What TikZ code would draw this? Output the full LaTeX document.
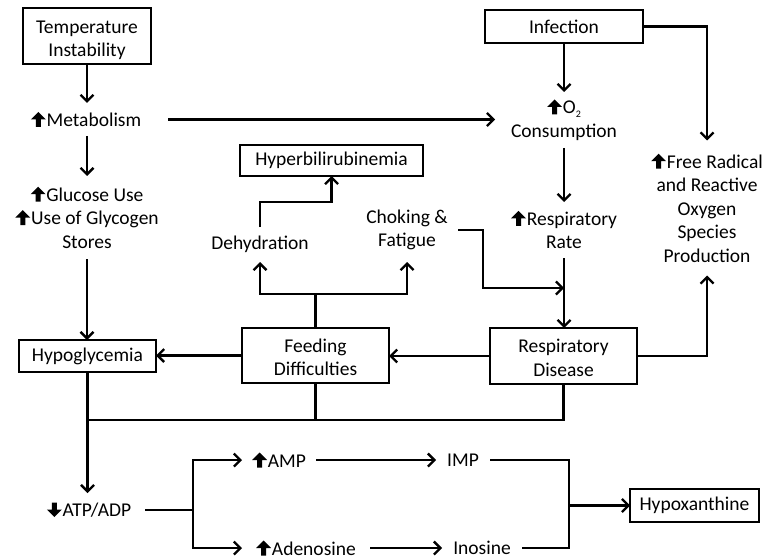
\documentclass[tikz,border=0pt]{standalone}
\usepackage{fontspec}
\setmainfont{Carlito}
\usetikzlibrary{arrows.meta,calc}
\newcommand{\upa}{\tikz[baseline=0pt,x=1pt,y=1pt]\fill (-2.5,-0.5)--(2.5,-0.5)--(2.5,7)--(7.5,7)--(0,14.5)--(-7.5,7)--(-2.5,7)--cycle;\hspace{0.8pt}}
\newcommand{\dna}{\tikz[baseline=0pt,x=1pt,y=1pt]\fill (-2.5,14)--(2.5,14)--(2.5,7)--(7.5,7)--(0,-0.5)--(-7.5,7)--(-2.5,7)--cycle;\hspace{0.8pt}}
\tikzset{
  every node/.style={font=\fontsize{19.5}{23.5}\selectfont, align=center, inner sep=0pt, outer sep=0pt},
  boxnode/.style={draw, line width=1.3pt},
  txt/.style={},
  conn/.style={line width=2.3pt},
  arr/.style={conn, -{Straight Barb[length=6.5pt,width=13pt,line width=2.3pt]}},
}
\begin{document}
\begin{tikzpicture}[x=1pt,y=-1pt]
\fill[white] (0,0) rectangle (766,559);
\useasboundingbox (0,0) rectangle (766,559);

% boxes
\node[boxnode, minimum width=128pt, minimum height=56pt] (temp) at (87,36) {\rule{0pt}{21pt}Temperature\\Instability};
\node[boxnode, minimum width=137pt, minimum height=32pt] (hypo) at (87.5,356) {Hypoglycemia};
\node[boxnode, minimum width=147pt, minimum height=55pt] (feed) at (315.5,355.5) {\rule{0pt}{17pt}Feeding\\Difficulties};
\node[boxnode, minimum width=147pt, minimum height=56pt] (resp) at (563.5,356) {\rule{0pt}{17pt}Respiratory\\Disease};
\node[boxnode, minimum width=158pt, minimum height=33pt] (inf) at (564,26.5) {Infection};
\node[boxnode, minimum width=183pt, minimum height=31pt] (hyperb) at (331.5,160.5) {Hyperbilirubinemia};
\node[boxnode, minimum width=129pt, minimum height=33pt] (hypox) at (694.5,505.5) {Hypoxanthine};

% text nodes (invisible frames whose borders are the connector ends)
\node[txt, minimum width=164pt, minimum height=33pt] (meta) at (86,119.5) {\upa Metabolism};
\node[txt, minimum height=83pt] (gluc) at (87,217.5) {\upa Glucose Use\\\upa Use of Glycogen\\Stores};
\node[txt, minimum width=138pt, minimum height=56pt] (o2) at (564,120) {\upa O\raisebox{-4pt}{\fontsize{10}{10}\selectfont 2}\\Consumption};
\node[txt, minimum height=56pt] (rr) at (564,230) {\upa Respiratory\\Rate};
\node[txt, minimum width=102pt, minimum height=64pt] (choke) at (407,230) {Choking \&\\Fatigue};
\node[txt, minimum height=35pt] (dehyd) at (260,244.5) {Dehydration};
\node[txt, minimum height=135pt] (frad) at (707,208) {\upa Free Radical\\and Reactive\\Oxygen\\Species\\Production};
\node[txt, minimum width=112pt, minimum height=34pt] (atp) at (89,510) {\dna ATP/ADP};
\node[txt, minimum width=74pt, minimum height=24pt] (amp) at (279,460) {\upa AMP};
\node[txt, minimum width=54pt, minimum height=24pt] (imp) at (463,460) {IMP};
\node[txt, minimum width=128pt, minimum height=24pt] (aden) at (306,548) {\upa Adenosine};
\node[txt, minimum width=80pt, minimum height=24pt] (ino) at (482,548) {Inosine};

\coordinate (j1) at (564,288);
\coordinate (j2) at (87.5,420);
\coordinate (br) at (193,510);
\coordinate (j3) at (569,505.5);

% connectors
\draw[arr] (temp.south) -- (temp.south |- meta.north);
\draw[arr] (meta.south -| temp.south) -- (temp.south |- gluc.north);
\draw[arr] (temp.south |- gluc.south) -- (hypo.north -| temp.south);
\draw[arr] (meta.east) -- (meta.east -| o2.west);
\draw[arr] (inf.south) -- (o2.north);
\draw[arr] (o2.south) -- (rr.north);
\draw[arr] (rr.south) -- (rr.south |- resp.north);
\draw[arr] (choke.east) -- ++(25,0) |- (j1);
\draw[arr] (inf.east) -| (frad.north);
\draw[arr] (resp.east) -| (frad.south);
\draw[arr] (resp.west) -- (resp.west -| feed.east);
\draw[arr] (feed.west) -- (feed.west -| hypo.east);
\draw[arr] (feed.north) -- ++(0,-34) -| (dehyd.south);
\draw[arr] (feed.north) -- ++(0,-34) -| (choke.south);
\draw[arr] (dehyd.north) -- ++(0,-25) -| (hyperb.south);
\draw[conn] (feed.south) |- (j2);
\draw[conn] (resp.south) |- (j2);
\draw[arr] (hypo.south) -- (hypo.south |- atp.north);
\draw[conn] (atp.east) -- (br);
\draw[arr] (br) |- (amp.west);
\draw[arr] (br) |- (aden.west);
\draw[arr] (amp.east) -- (imp.west);
\draw[arr] (aden.east) -- (ino.west);
\draw[conn] (imp.east) -| (j3);
\draw[conn] (ino.east) -| (j3);
\draw[arr] (j3) -- (hypox.west);
\end{tikzpicture}
\end{document}
